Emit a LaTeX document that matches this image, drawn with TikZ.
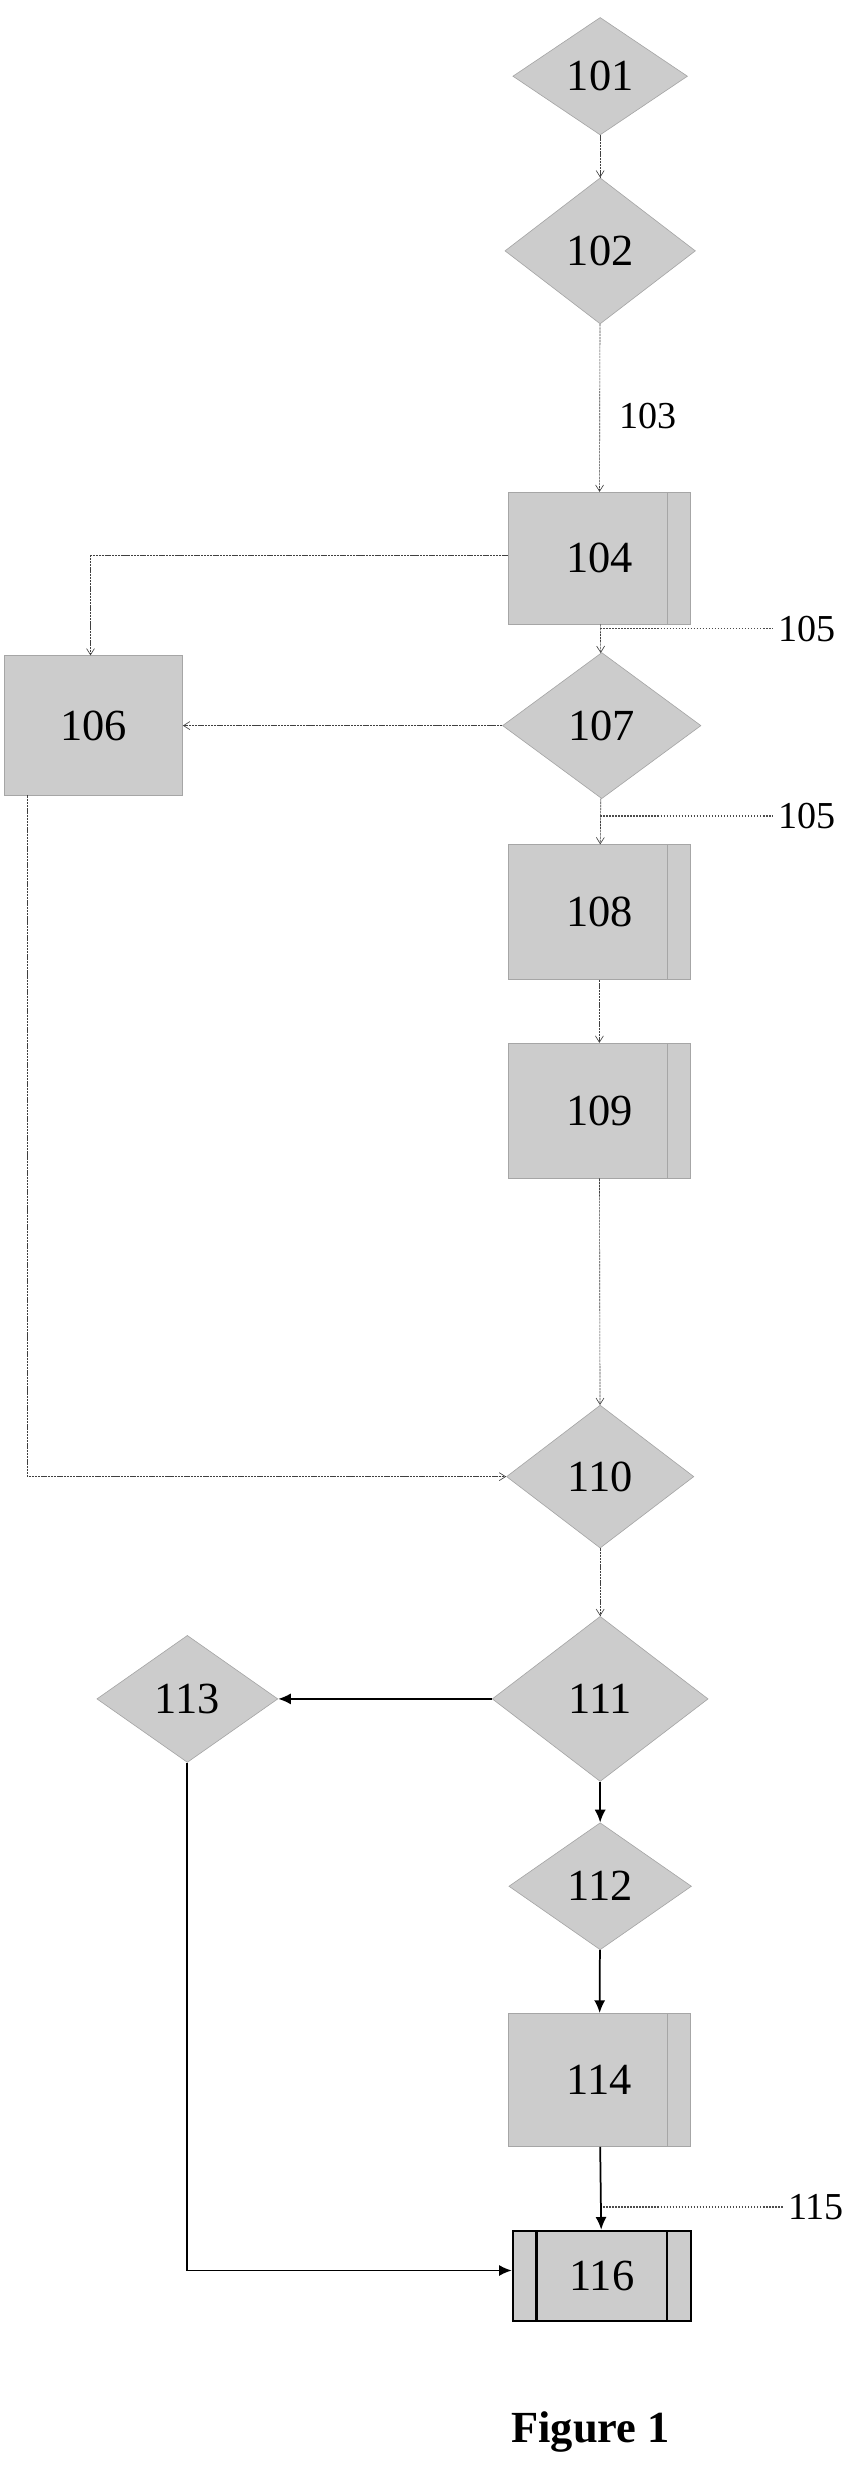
\documentclass[tikz,border=0pt]{standalone}
\usepackage{fontspec}
\setmainfont{Liberation Serif}
\usetikzlibrary{shapes.geometric,arrows.meta}
\begin{document}
\begin{tikzpicture}[x=1pt,y=-1pt,
  dia/.style={diamond,aspect=#1,fill=gray!40,draw=gray!70,inner sep=0pt,font=\fontsize{28}{28}\selectfont},
  box/.style={rectangle,fill=gray!40,draw=gray!70,inner sep=0pt,font=\fontsize{28}{28}\selectfont},
  lab/.style={font=\fontsize{24}{24}\selectfont},
  con/.style={draw=black!75,dash pattern=on 1.5pt off 0.5pt,-{Straight Barb[length=4pt,width=5pt]}},
  sol/.style={draw=black,line width=1.1pt,-{Latex[length=8pt,width=7pt]}},
  lead/.style={draw=black!70,densely dotted,line width=0.9pt}]
\useasboundingbox (0,0) rectangle (538,1567);
\node[dia=1.5,minimum width=110pt,minimum height=74pt] (n101) at (378,48) {101};
\node[dia=1.3,minimum width=120pt,minimum height=92pt] (n102) at (378,158) {102};
\node[box,minimum width=115pt,minimum height=83pt] (n104) at (377.5,351.5) {104};
\draw[gray!70] (420,310) -- (420,393);
\node[box,minimum width=112pt,minimum height=88pt] (n106) at (59,457) {106};
\node[dia=1.36,minimum width=125pt,minimum height=92pt] (n107) at (379,457) {107};
\node[box,minimum width=115pt,minimum height=85pt] (n108) at (377.5,574.5) {108};
\draw[gray!70] (420,532) -- (420,617);
\node[box,minimum width=115pt,minimum height=85pt] (n109) at (377.5,699.5) {109};
\draw[gray!70] (420,657) -- (420,742);
\node[dia=1.31,minimum width=118pt,minimum height=90pt] (n110) at (378,930) {110};
\node[dia=1.3,minimum width=136pt,minimum height=104pt] (n111) at (378,1070) {111};
\node[dia=1.43,minimum width=114pt,minimum height=80pt] (n113) at (118,1070) {113};
\node[dia=1.43,minimum width=115pt,minimum height=80pt] (n112) at (378,1188) {112};
\node[box,minimum width=115pt,minimum height=84pt] (n114) at (377.5,1310) {114};
\draw[gray!70] (420,1268) -- (420,1352);
\node[box,draw=black,line width=1.4pt,minimum width=112pt,minimum height=57pt] (n116) at (379,1433.5) {116};
\draw[line width=1.6pt] (338,1405) -- (338,1462) (420,1405) -- (420,1462);
% labels
\node[lab] (l103) at (408,262) {103};
\node[lab] (l105a) at (508,396) {105};
\node[lab] (l105b) at (508,514) {105};
\node[lab] (l115) at (514,1390) {115};
\node[font=\fontsize{28}{28}\selectfont\bfseries] (fig) at (372,1532) {Figure 1};
% connectors
\draw[con] (n101) -- (n102);
\draw[con] (n102) -- (n104);
\draw[con] (n104) -- (n107);
\draw[con] (n107) -- (n108);
\draw[con] (n108) -- (n109);
\draw[con] (n109) -- (n110);
\draw[con] (n110) -- (n111);
\draw[con] (n104.west |- 0,350) -- (57,350) -- (n106.north -| 57,0);
\draw[con] (n107.west) -- (n106.east);
\draw[con] (17,501) -- (17,930) -- (n110.west);
\draw[lead] (378,396) -- (l105a.west);
\draw[lead] (378,514) -- (l105b.west);
\draw[lead] (378,1390) -- (l115.west);
\draw[sol] (n111.west) -- (n113.east);
\draw[sol] (n111) -- (n112);
\draw[sol] (n112) -- (n114);
\draw[sol] (n114) -- (n116);
\draw[sol] (n113.south) -- (118,1430) -- (n116.west |- 0,1430);
\end{tikzpicture}
\end{document}
